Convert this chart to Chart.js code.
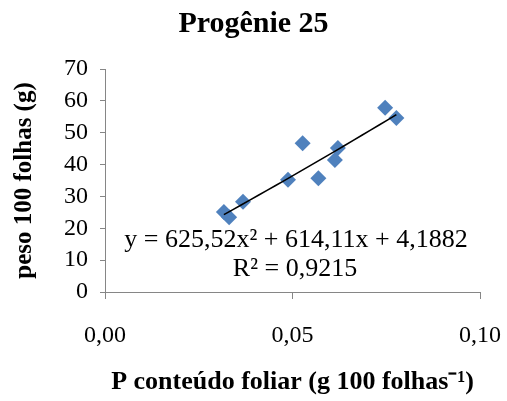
<!DOCTYPE html>
<html>
<head>
<meta charset="utf-8">
<script src="https://cdn.jsdelivr.net/npm/chart.js@4/dist/chart.umd.min.js"></script>
<style>
  html, body { margin: 0; padding: 0; background: #fff; }
  #wrap { width: 507px; height: 401px; }
</style>
</head>
<body>
<div id="wrap"><canvas id="myChart" width="507" height="401"></canvas></div>
<script>
// P conteudo foliar vs peso de 100 folhas
var pConteudo = [0.0317, 0.0331, 0.0368, 0.0488, 0.0527, 0.0569, 0.0613, 0.0621, 0.0747, 0.0777];
var pesoFolhas = [25.1, 23.5, 28.3, 35.2, 46.7, 35.7, 41.4, 45.2, 57.8, 54.6];

// coeficientes da linha de tendencia (a*x^2 + b*x + c)
var trendCoef = [625.52, 614.11, 4.1882];
var trendText = ["y = 625,52x² + 614,11x + 4,1882", "R² = 0,9215"];

var xTicks = [0, 0.05, 0.1];
var yTicks = [0, 10, 20, 30, 40, 50, 60, 70];

var serif = "'Liberation Serif', 'Times New Roman', serif";
var axisGray = '#868686';

var points = pConteudo.map(function (x, i) {
    return { x: x, y: pesoFolhas[i] };
});

var xMin = Math.min.apply(null, pConteudo);
var xMax = Math.max.apply(null, pConteudo);
var trend = [];
for (var i = 0; i <= 20; i++) {
    var x = xMin + (xMax - xMin) * i / 20;
    trend.push({ x: x, y: trendCoef[0] * x * x + trendCoef[1] * x + trendCoef[2] });
}

// texto da equacao sobre o grafico
var equationLabel = {
    id: 'equationLabel',
    afterDatasetsDraw: function (chart) {
        var ctx = chart.ctx;
        ctx.save();
        ctx.fillStyle = '#000';
        ctx.font = '26px ' + serif;
        ctx.textAlign = 'center';
        ctx.textBaseline = 'middle';
        ctx.fillText(trendText[0], 296, 240);
        ctx.fillText(trendText[1], 295, 269);
        ctx.restore();
    }
};

var ctx = document.getElementById('myChart').getContext('2d');
var chart = new Chart(ctx, {
    type: 'scatter',
    data: {
        datasets: [
            {
                label: 'peso',
                data: points,
                pointStyle: 'rectRot',
                pointRadius: 8,
                pointHoverRadius: 8,
                backgroundColor: '#4F81BD',
                borderColor: '#4F81BD',
                borderWidth: 0,
                order: 2
            },
            {
                label: 'tendencia',
                type: 'line',
                data: trend,
                borderColor: '#000',
                borderWidth: 1.6,
                pointRadius: 0,
                fill: false,
                tension: 0,
                order: 1
            }
        ]
    },
    options: {
        responsive: false,
        animation: false,
        events: [],
        layout: { padding: 0 },
        plugins: {
            legend: { display: false },
            tooltip: { enabled: false },
            title: {
                display: true,
                text: 'Progênie 25',
                color: '#000',
                font: { family: serif, size: 30, weight: 'bold' },
                padding: { top: 6, bottom: 27 }
            }
        },
        scales: {
            x: {
                type: 'linear',
                min: 0,
                max: 0.1,
                afterFit: function (scale) {
                    scale.height = 109;
                    scale.paddingLeft = 0;
                    scale.paddingRight = 27;
                },
                afterBuildTicks: function (scale) {
                    scale.ticks = xTicks.map(function (v) { return { value: v }; });
                },
                border: { display: true, color: axisGray, width: 1 },
                grid: { drawOnChartArea: false, drawTicks: true, tickLength: 7, color: axisGray },
                ticks: {
                    color: '#000',
                    padding: 22,
                    maxRotation: 0,
                    font: { family: serif, size: 24 },
                    callback: function (v) { return v.toFixed(2).replace('.', ','); }
                },
                title: {
                    display: true,
                    text: 'P conteúdo foliar (g 100 folhas⁻¹)',
                    color: '#000',
                    font: { family: serif, size: 26, weight: 'bold' },
                    padding: { top: 0, bottom: 3 }
                }
            },
            y: {
                type: 'linear',
                min: 0,
                max: 70,
                afterFit: function (scale) { scale.width = 105; },
                afterBuildTicks: function (scale) {
                    scale.ticks = yTicks.map(function (v) { return { value: v }; });
                },
                border: { display: true, color: axisGray, width: 1 },
                grid: { drawOnChartArea: false, drawTicks: true, tickLength: 5, color: axisGray },
                ticks: {
                    color: '#000',
                    padding: 12,
                    font: { family: serif, size: 24 }
                },
                title: {
                    display: true,
                    text: 'peso 100 folhas (g)',
                    color: '#000',
                    font: { family: serif, size: 25, weight: 'bold' },
                    padding: { top: 10, bottom: 0 }
                }
            }
        }
    },
    plugins: [equationLabel]
});
</script>
</body>
</html>
